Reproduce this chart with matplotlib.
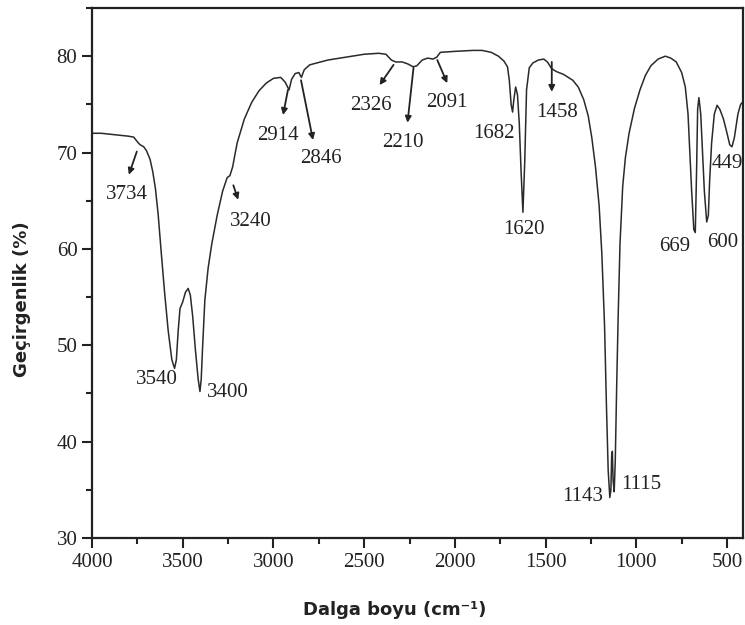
import matplotlib.pyplot as plt
from matplotlib.ticker import MultipleLocator

# spectrum: wavenumber (cm-1) and transmittance (%)
wavenumber = [4000, 3950, 3900, 3850, 3800, 3770, 3745, 3734, 3715, 3700,
              3680, 3665, 3650, 3635, 3620, 3600, 3580, 3560, 3545, 3535,
              3525, 3515, 3500, 3485, 3470, 3458, 3445, 3430, 3415, 3405,
              3398, 3390, 3378, 3360, 3340, 3310, 3280, 3255, 3240, 3225,
              3200, 3160, 3120, 3080, 3040, 3000, 2960, 2935, 2914, 2900,
              2880, 2860, 2846, 2830, 2800, 2700, 2600, 2500, 2420, 2380,
              2350, 2326, 2290, 2260, 2230, 2210, 2180, 2150, 2120, 2100,
              2080, 2000, 1900, 1850, 1800, 1760, 1730, 1710, 1700, 1690,
              1682, 1675, 1665, 1655, 1645, 1635, 1625, 1615, 1605, 1590,
              1570, 1540, 1510, 1490, 1470, 1458, 1440, 1400, 1350, 1320,
              1290, 1265, 1245, 1225, 1205, 1190, 1175, 1165, 1155, 1146,
              1140, 1136, 1132, 1128, 1122, 1116, 1108, 1100, 1090, 1075,
              1060, 1040, 1010, 980, 950, 920, 880, 840, 810, 780,
              750, 730, 715, 705, 695, 683, 675, 668, 662, 655,
              645, 635, 625, 612, 603, 596, 585, 570, 555, 540,
              520, 500, 485, 473, 460, 440, 425, 415]
transmittance = [72.0, 72.0, 71.9, 71.8, 71.7, 71.6, 71.0, 70.8, 70.6, 70.2,
                 69.3, 68.0, 66.2, 63.5, 60.0, 55.5, 51.5, 48.5, 47.6, 48.5,
                 51.5, 53.8, 54.5, 55.5, 55.9, 55.2, 53.0, 49.5, 46.5, 45.2,
                 46.5, 50.0, 54.7, 58.0, 60.5, 63.5, 66.0, 67.4, 67.6, 68.5,
                 71.0, 73.5, 75.2, 76.4, 77.2, 77.7, 77.8, 77.3, 76.5, 77.6,
                 78.2, 78.3, 77.8, 78.6, 79.1, 79.6, 79.9, 80.2, 80.3, 80.2,
                 79.6, 79.4, 79.4, 79.2, 78.9, 79.0, 79.6, 79.8, 79.7, 79.9,
                 80.4, 80.5, 80.6, 80.6, 80.4, 80.0, 79.5, 78.9, 77.5, 75.0,
                 74.2, 75.5, 76.8, 76.0, 73.0, 68.0, 63.8, 69.0, 76.5, 78.8,
                 79.3, 79.6, 79.7, 79.4, 78.8, 78.6, 78.4, 78.1, 77.5, 76.8,
                 75.5, 73.8, 71.5, 68.5, 64.5, 59.5, 52.0, 44.0, 37.0, 34.2,
                 35.0, 38.5, 39.0, 36.0, 34.8, 38.0, 46.0, 53.0, 60.5, 66.5,
                 69.5, 72.0, 74.6, 76.5, 78.0, 79.0, 79.7, 80.0, 79.8, 79.4,
                 78.3, 76.8, 74.0, 70.0, 66.0, 62.0, 61.7, 68.0, 74.5, 75.7,
                 74.0, 70.0, 66.0, 62.8, 63.5, 67.0, 71.0, 74.0, 74.9, 74.5,
                 73.5, 72.0, 70.8, 70.6, 71.5, 74.0, 75.0, 75.2]

# peak labels: text, text position (x, y), alignment, arrow start on curve (or None)
peak_labels = ['3734', '3240', '3540', '3400', '2914', '2846', '2326', '2210',
               '2091', '1682', '1458', '1620', '1143', '1115', '669', '600', '449']
label_pos = [(3808, 65.6), (3122, 62.8), (3643, 46.4), (3369, 45.1), (2974, 71.8),
             (2738, 69.4), (2464, 74.9), (2289, 71.0), (2042, 75.2), (1784, 72.0),
             (1438, 74.2), (1619, 62.0), (1184, 34.3), (1083, 35.5), (786, 60.2),
             (522, 60.7), (583, 68.9)]
label_ha = ['center', 'center', 'center', 'left', 'center', 'center', 'center', 'center',
            'center', 'center', 'center', 'center', 'right', 'left', 'center', 'center', 'left']
arrow_tail = [(3753, 70.1), (3221, 66.6), None, None, (2920, 76.5), (2848, 77.5),
              (2338, 79.1), (2228, 78.8), (2097, 79.6), None, (1466, 79.4), None,
              None, None, None, None, None]
arrow_head = [(3797, 67.7), (3194, 65.1), None, None, (2947, 73.9), (2782, 71.3),
              (2415, 77.0), (2261, 73.1), (2042, 77.2), None, (1466, 76.3), None,
              None, None, None, None, None]

fig = plt.figure(figsize=(7.45, 6.25), dpi=100)
ax = fig.add_axes([92 / 745, 87 / 625, 651 / 745, 530 / 625])

ax.plot(wavenumber, transmittance, color='#2a2a2a', lw=1.1)

for txt, pos, ha, tail, head in zip(peak_labels, label_pos, label_ha, arrow_tail, arrow_head):
    ax.text(pos[0], pos[1], txt, ha=ha, va='center', fontsize=15,
            family='Liberation Serif', color='#222222', clip_on=False)
    if tail is not None:
        ax.annotate('', xy=head, xytext=tail,
                    arrowprops=dict(arrowstyle='-|>', color='#222222', lw=1.3,
                                    mutation_scale=9, shrinkA=0, shrinkB=0))

ax.set_xlim(4000, 412)
ax.set_ylim(30, 85)
ax.xaxis.set_major_locator(MultipleLocator(500))
ax.xaxis.set_minor_locator(MultipleLocator(250))
ax.yaxis.set_minor_locator(MultipleLocator(5))
ax.set_yticks([30, 40, 50, 60, 70, 80])

ax.tick_params(which='both', direction='out', width=1.5, color='#222222',
               labelsize=15, labelcolor='#222222')
ax.tick_params(which='major', length=7)
ax.tick_params(which='minor', length=4)
for lab in ax.get_xticklabels() + ax.get_yticklabels():
    lab.set_family('Liberation Serif')
for sp in ax.spines.values():
    sp.set_linewidth(1.6)
    sp.set_color('#222222')

ax.set_xlabel('Dalga boyu (cm⁻¹)', fontsize=13, fontweight='bold', color='#222222')
ax.set_ylabel('Geçirgenlik (%)', fontsize=13, fontweight='bold', color='#222222')
ax.xaxis.set_label_coords(0.465, -0.118)
ax.yaxis.set_label_coords(-0.093, 0.45)

fig.savefig('out.png', dpi=100)
